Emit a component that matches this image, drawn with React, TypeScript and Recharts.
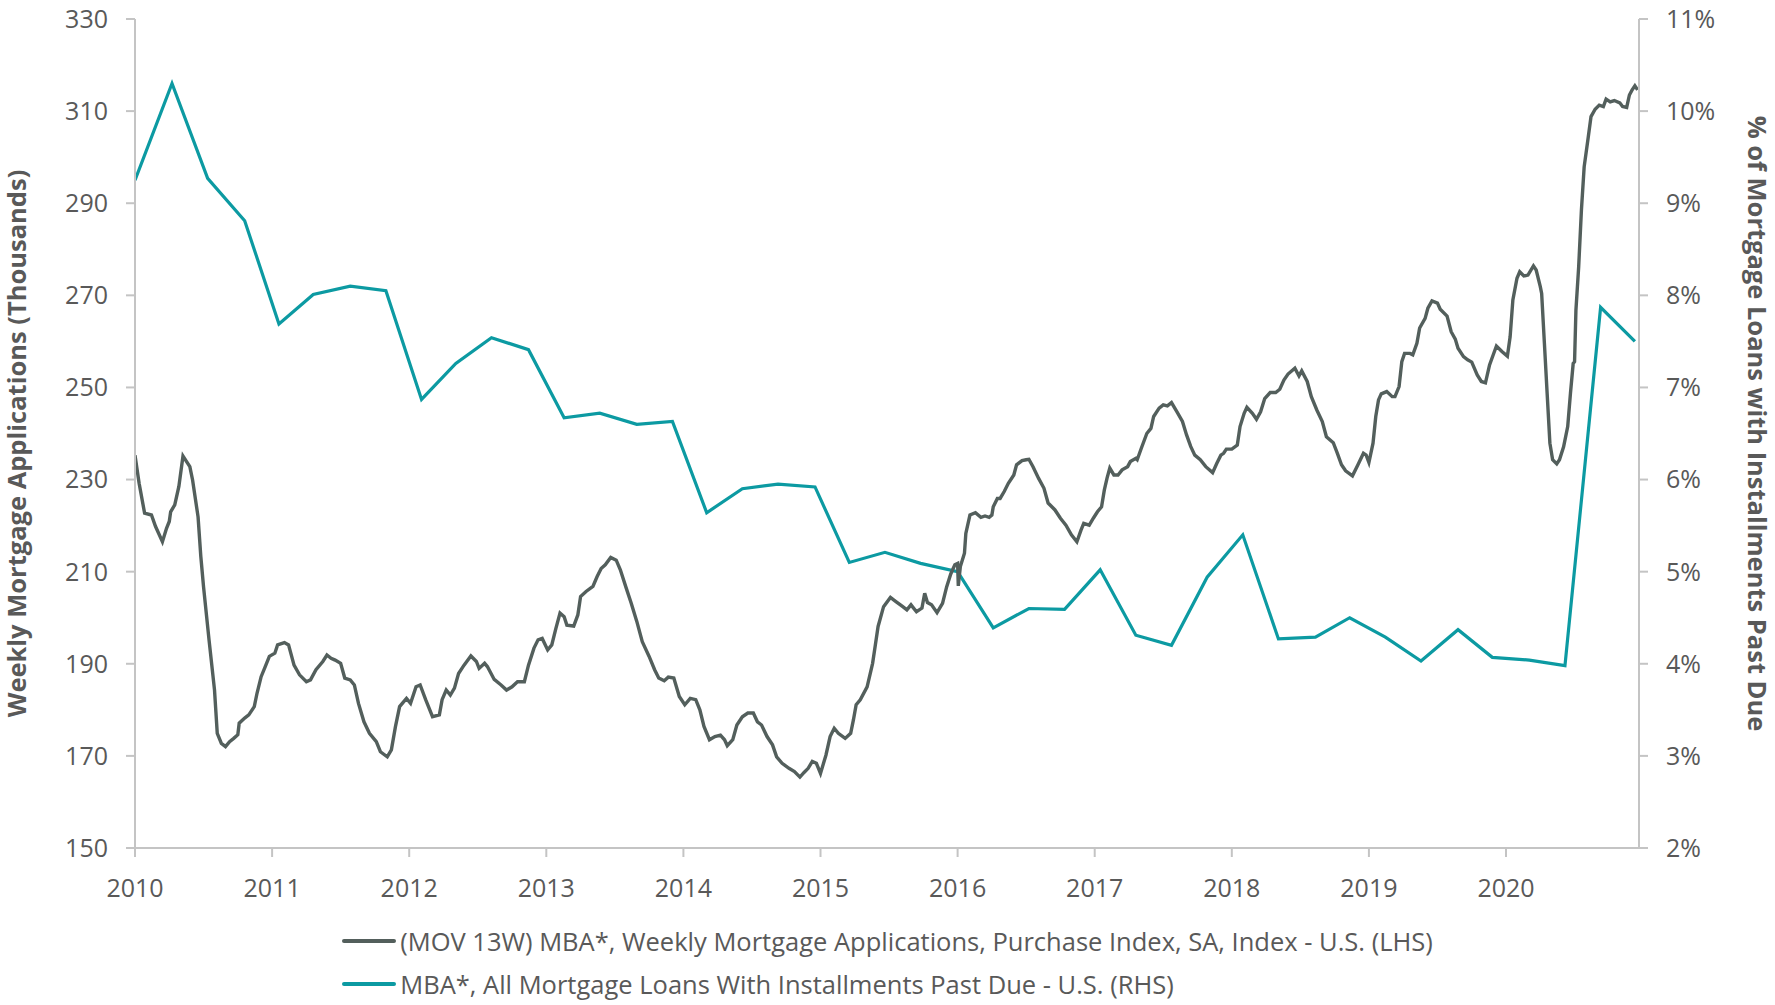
import { LineChart, Line, XAxis, YAxis, Legend } from "recharts";

// (MOV 13W) purchase index, thousands — [decimal year, value]
const PURCHASE_INDEX: [number, number][] = [
  [2010.0, 235.3], [2010.03, 229.2], [2010.07, 222.7], [2010.12, 222.3], [2010.15, 219.8],
  [2010.2, 216.5], [2010.23, 219.4], [2010.25, 220.9], [2010.26, 223.0], [2010.29, 224.5],
  [2010.32, 228.5], [2010.35, 235.1], [2010.4, 232.8], [2010.42, 229.9], [2010.46, 221.9],
  [2010.48, 213.3], [2010.5, 206.7], [2010.54, 195.2], [2010.58, 184.3], [2010.6, 174.9],
  [2010.63, 172.7], [2010.66, 172.0], [2010.69, 173.1], [2010.72, 173.8], [2010.75, 174.6],
  [2010.76, 177.1], [2010.8, 178.2], [2010.83, 178.9], [2010.87, 180.7], [2010.89, 183.6],
  [2010.92, 187.2], [2010.95, 189.4], [2010.98, 191.6], [2011.02, 192.3], [2011.04, 194.1],
  [2011.09, 194.6], [2011.12, 194.1], [2011.16, 189.7], [2011.2, 187.6], [2011.25, 186.1],
  [2011.28, 186.5], [2011.32, 188.7], [2011.37, 190.5], [2011.4, 191.9], [2011.43, 191.2],
  [2011.46, 190.8], [2011.5, 190.1], [2011.53, 186.9], [2011.57, 186.5], [2011.6, 185.4],
  [2011.63, 181.4], [2011.67, 177.4], [2011.71, 174.9], [2011.76, 173.1], [2011.79, 170.9],
  [2011.84, 169.8], [2011.87, 171.3], [2011.9, 176.4], [2011.93, 180.7], [2011.98, 182.5],
  [2012.01, 181.4], [2012.05, 185.0], [2012.08, 185.4], [2012.12, 182.2], [2012.17, 178.5],
  [2012.22, 178.9], [2012.24, 182.2], [2012.27, 184.3], [2012.3, 183.2], [2012.33, 184.7],
  [2012.36, 187.9], [2012.4, 189.7], [2012.42, 190.5], [2012.45, 191.7], [2012.49, 190.5],
  [2012.51, 189.0], [2012.55, 190.1], [2012.57, 189.4], [2012.62, 186.6], [2012.67, 185.4],
  [2012.71, 184.3], [2012.75, 185.0], [2012.79, 186.1], [2012.84, 186.1], [2012.87, 189.7],
  [2012.91, 193.4], [2012.94, 195.2], [2012.97, 195.5], [2013.01, 193.0], [2013.04, 194.1],
  [2013.07, 197.7], [2013.1, 201.0], [2013.13, 200.2], [2013.15, 198.4], [2013.2, 198.2],
  [2013.23, 200.6], [2013.25, 204.6], [2013.29, 205.7], [2013.34, 206.8], [2013.37, 208.9],
  [2013.4, 210.7], [2013.43, 211.5], [2013.47, 213.1], [2013.51, 212.5], [2013.54, 210.4],
  [2013.58, 206.7], [2013.62, 203.1], [2013.66, 199.2], [2013.7, 194.8], [2013.75, 191.6],
  [2013.79, 188.7], [2013.82, 186.9], [2013.86, 186.3], [2013.89, 187.1], [2013.93, 186.9],
  [2013.97, 182.9], [2014.01, 181.1], [2014.05, 182.5], [2014.09, 182.2], [2014.12, 180.0],
  [2014.15, 176.4], [2014.19, 173.5], [2014.23, 174.2], [2014.27, 174.5], [2014.3, 173.5],
  [2014.32, 172.2], [2014.36, 173.5], [2014.39, 176.7], [2014.43, 178.5], [2014.47, 179.3],
  [2014.51, 179.3], [2014.54, 177.4], [2014.57, 176.7], [2014.61, 174.2], [2014.65, 172.4],
  [2014.68, 169.8], [2014.72, 168.4], [2014.77, 167.3], [2014.81, 166.6], [2014.85, 165.4],
  [2014.88, 166.4], [2014.91, 167.3], [2014.94, 168.8], [2014.97, 168.4], [2015.0, 166.2],
  [2015.04, 170.2], [2015.07, 174.2], [2015.1, 176.0], [2015.13, 174.9], [2015.18, 173.8],
  [2015.22, 174.9], [2015.24, 177.8], [2015.26, 181.1], [2015.29, 182.2], [2015.34, 185.0],
  [2015.38, 190.1], [2015.4, 194.1], [2015.42, 198.1], [2015.46, 202.4], [2015.51, 204.4],
  [2015.55, 203.5], [2015.6, 202.4], [2015.63, 201.7], [2015.66, 202.8], [2015.7, 201.3],
  [2015.74, 202.1], [2015.76, 205.3], [2015.78, 203.3], [2015.81, 202.8], [2015.85, 201.1],
  [2015.89, 203.1], [2015.92, 206.7], [2015.95, 209.5], [2015.98, 211.5], [2016.0, 211.8],
  [2016.005, 206.9], [2016.02, 211.1], [2016.05, 214.0], [2016.06, 218.3], [2016.09, 222.3],
  [2016.13, 222.8], [2016.17, 221.8], [2016.2, 222.1], [2016.23, 221.8], [2016.25, 222.3],
  [2016.26, 224.1], [2016.29, 225.9], [2016.31, 225.9], [2016.34, 227.4], [2016.37, 229.2],
  [2016.41, 231.0], [2016.43, 233.2], [2016.47, 234.1], [2016.5, 234.3], [2016.52, 234.4],
  [2016.55, 232.8], [2016.59, 230.3], [2016.63, 228.1], [2016.66, 224.9], [2016.71, 223.4],
  [2016.75, 221.6], [2016.79, 220.1], [2016.83, 218.0], [2016.87, 216.5], [2016.9, 219.0],
  [2016.92, 220.5], [2016.96, 220.1], [2016.99, 221.6], [2017.02, 223.0], [2017.05, 224.1],
  [2017.07, 227.7], [2017.09, 230.3], [2017.11, 232.5], [2017.14, 231.0], [2017.17, 231.0],
  [2017.2, 232.1], [2017.24, 232.8], [2017.26, 233.9], [2017.3, 234.6], [2017.31, 234.3],
  [2017.34, 236.8], [2017.38, 240.0], [2017.41, 241.1], [2017.43, 243.7], [2017.47, 245.5],
  [2017.5, 246.2], [2017.53, 246.0], [2017.56, 246.7], [2017.6, 244.7], [2017.64, 242.6],
  [2017.67, 239.7], [2017.7, 237.2], [2017.73, 235.3], [2017.77, 234.3], [2017.81, 232.8],
  [2017.86, 231.5], [2017.89, 233.5], [2017.92, 235.3], [2017.94, 235.7], [2017.96, 236.6],
  [2018.0, 236.6], [2018.04, 237.5], [2018.06, 241.5], [2018.09, 244.4], [2018.11, 245.7],
  [2018.15, 244.4], [2018.18, 243.1], [2018.21, 244.7], [2018.24, 247.6], [2018.28, 248.9],
  [2018.32, 248.9], [2018.35, 249.6], [2018.38, 251.6], [2018.41, 252.9], [2018.46, 254.2],
  [2018.49, 252.5], [2018.51, 253.6], [2018.55, 251.3], [2018.58, 248.0], [2018.62, 245.1],
  [2018.66, 242.6], [2018.69, 239.3], [2018.74, 238.0], [2018.77, 235.7], [2018.8, 233.2],
  [2018.83, 231.9], [2018.88, 230.8], [2018.92, 233.2], [2018.96, 235.7], [2018.98, 235.3],
  [2019.0, 233.7], [2019.03, 237.9], [2019.05, 243.7], [2019.07, 247.3], [2019.09, 248.6],
  [2019.13, 249.1], [2019.17, 248.0], [2019.19, 248.0], [2019.22, 250.2], [2019.24, 255.6],
  [2019.26, 257.4], [2019.3, 257.4], [2019.32, 257.1], [2019.35, 259.6], [2019.37, 262.9],
  [2019.41, 265.0], [2019.43, 267.2], [2019.46, 268.8], [2019.5, 268.3], [2019.52, 267.0],
  [2019.57, 265.5], [2019.6, 262.1], [2019.63, 260.5], [2019.65, 258.5], [2019.69, 256.7],
  [2019.72, 256.0], [2019.75, 255.5], [2019.79, 252.7], [2019.82, 251.3], [2019.85, 251.0],
  [2019.88, 254.9], [2019.93, 259.0], [2019.97, 257.8], [2020.01, 256.8], [2020.03, 261.0],
  [2020.05, 269.0], [2020.08, 273.7], [2020.1, 275.1], [2020.13, 274.2], [2020.16, 274.4],
  [2020.2, 276.4], [2020.22, 275.5], [2020.25, 271.9], [2020.26, 270.4], [2020.28, 259.6],
  [2020.3, 248.7], [2020.32, 237.9], [2020.34, 234.3], [2020.37, 233.4], [2020.39, 234.3],
  [2020.42, 237.1], [2020.45, 241.5], [2020.47, 248.7], [2020.49, 255.2], [2020.5, 255.6],
  [2020.51, 266.8], [2020.53, 276.2], [2020.55, 288.5], [2020.57, 297.9], [2020.6, 304.4],
  [2020.62, 308.8], [2020.65, 310.4], [2020.68, 311.3], [2020.71, 311.0], [2020.73, 312.6],
  [2020.76, 312.0], [2020.79, 312.3], [2020.83, 311.8], [2020.85, 311.0], [2020.88, 310.8],
  [2020.9, 313.5], [2020.92, 314.6], [2020.94, 315.5], [2020.96, 314.6],
];

// quarterly % of loans past due — [decimal year, percent]
const PAST_DUE: [number, number][] = [
  [2010.0, 9.25], [2010.27, 10.3], [2010.53, 9.27], [2010.8, 8.81],
  [2011.05, 7.69], [2011.3, 8.01], [2011.57, 8.1], [2011.83, 8.05],
  [2012.09, 6.87], [2012.34, 7.26], [2012.6, 7.54], [2012.87, 7.41],
  [2013.13, 6.67], [2013.39, 6.72], [2013.66, 6.6], [2013.92, 6.63],
  [2014.17, 5.64], [2014.43, 5.9], [2014.69, 5.95], [2014.96, 5.92],
  [2015.21, 5.1], [2015.47, 5.21], [2015.73, 5.09], [2016.0, 5.0],
  [2016.26, 4.39], [2016.52, 4.6], [2016.78, 4.59], [2017.04, 5.02],
  [2017.3, 4.31], [2017.56, 4.2], [2017.82, 4.94], [2018.08, 5.4],
  [2018.34, 4.27], [2018.61, 4.29], [2018.86, 4.5], [2019.12, 4.29],
  [2019.38, 4.03], [2019.65, 4.37], [2019.9, 4.07], [2020.17, 4.04],
  [2020.43, 3.98], [2020.69, 7.87], [2020.94, 7.5],
];

const YEAR_TICKS = [2010, 2011, 2012, 2013, 2014, 2015, 2016, 2017, 2018, 2019, 2020];
const LEFT_TICKS = [150, 170, 190, 210, 230, 250, 270, 290, 310, 330];
const RIGHT_TICKS = [2, 3, 4, 5, 6, 7, 8, 9, 10, 11];

const LHS_NAME = "(MOV 13W) MBA*, Weekly Mortgage Applications, Purchase Index, SA, Index - U.S. (LHS)";
const RHS_NAME = "MBA*, All Mortgage Loans With Installments Past Due - U.S. (RHS)";

const GRAY = "#535f5c";
const TEAL = "#0c9aa2";
const TEXT = "#595959";
const AXIS = "#c4c4c4";
const FONT = "'Open Sans', sans-serif";

const purchaseData = PURCHASE_INDEX.map(([x, v]) => ({ x, v }));
const pastDueData = PAST_DUE.map(([x, v]) => ({ x, v }));

const tickStyle = { fill: TEXT, fontSize: 25, fontFamily: FONT };

function LeftTitle(props: any) {
  const { viewBox } = props;
  const x = viewBox.x + 16;
  const y = viewBox.y + viewBox.height / 2 + 10;
  return (
    <text x={x} y={y} transform={`rotate(-90 ${x} ${y})`} textAnchor="middle" dominantBaseline="central"
      fill={TEXT} fontSize={25.5} fontWeight={700} fontFamily={FONT}>
      Weekly Mortgage Applications (Thousands)
    </text>
  );
}

function RightTitle(props: any) {
  const { viewBox } = props;
  const x = viewBox.x + viewBox.width - 17;
  const y = viewBox.y + viewBox.height / 2 - 10;
  return (
    <text x={x} y={y} transform={`rotate(90 ${x} ${y})`} textAnchor="middle" dominantBaseline="central"
      fill={TEXT} fontSize={25.5} fontWeight={700} fontFamily={FONT}>
      % of Mortgage Loans with Installments Past Due
    </text>
  );
}

function LegendBox() {
  const items = [
    { name: LHS_NAME, color: GRAY },
    { name: RHS_NAME, color: TEAL },
  ];
  return (
    <div style={{ height: 92, paddingTop: 6, boxSizing: "border-box", display: "flex", justifyContent: "center" }}>
      <div>
        {items.map((it) => (
          <div key={it.name} style={{ display: "flex", alignItems: "center", height: 43 }}>
            <span style={{ display: "inline-block", width: 54, height: 4, borderRadius: 2, background: it.color, marginRight: 4 }} />
            <span style={{ color: TEXT, fontSize: 25.5, fontFamily: FONT, whiteSpace: "nowrap" }}>{it.name}</span>
          </div>
        ))}
      </div>
    </div>
  );
}

export default function App() {
  return (
    <div style={{ position: "absolute", left: 0, top: 0, width: 1775, height: 1005, background: "#fff" }}>
      <LineChart width={1775} height={1005} margin={{ top: 19, right: 0, bottom: 0, left: 0 }}>
        <XAxis
          dataKey="x"
          type="number"
          domain={[2010, 2020.97]}
          ticks={YEAR_TICKS}
          allowDataOverflow
          height={65}
          stroke={AXIS}
          strokeWidth={2}
          tickSize={9}
          tickMargin={22}
          tick={tickStyle}
        />
        <YAxis
          yAxisId="left"
          domain={[150, 330]}
          ticks={LEFT_TICKS}
          width={135}
          stroke={AXIS}
          strokeWidth={2}
          tickSize={9}
          tickMargin={18}
          tick={tickStyle}
          label={<LeftTitle />}
        />
        <YAxis
          yAxisId="right"
          orientation="right"
          domain={[2, 11]}
          ticks={RIGHT_TICKS}
          width={136}
          stroke={AXIS}
          strokeWidth={2}
          tickSize={9}
          tickMargin={18}
          tick={tickStyle}
          tickFormatter={(v: number) => `${v}%`}
          label={<RightTitle />}
        />
        <Legend verticalAlign="bottom" content={() => <LegendBox />} />
        <Line
          yAxisId="right"
          data={pastDueData}
          dataKey="v"
          name={RHS_NAME}
          type="linear"
          stroke={TEAL}
          strokeWidth={3.2}
          dot={false}
          isAnimationActive={false}
        />
        <Line
          yAxisId="left"
          data={purchaseData}
          dataKey="v"
          name={LHS_NAME}
          type="linear"
          stroke={GRAY}
          strokeWidth={3.4}
          dot={false}
          isAnimationActive={false}
        />
      </LineChart>
    </div>
  );
}
